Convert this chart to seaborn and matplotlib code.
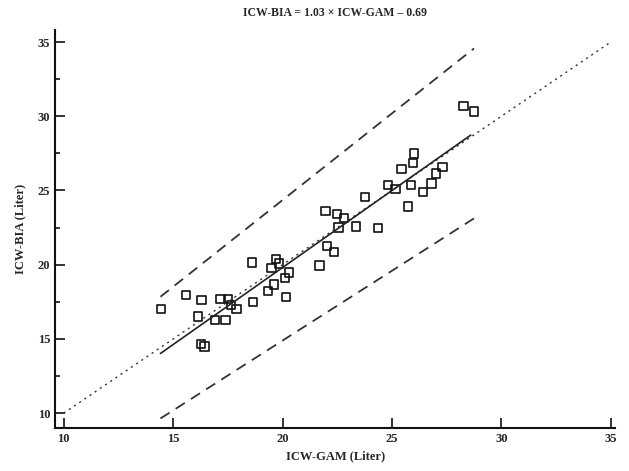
import matplotlib
matplotlib.use("Agg")
import matplotlib.pyplot as plt
import pandas as pd
import seaborn as sns
from matplotlib.ticker import MultipleLocator

# ICW measured by GAM (x) and by BIA (y), liters
icw_gam = [14.45, 15.6, 16.3, 16.15, 16.26, 16.44, 16.9, 17.16, 17.5, 17.39,
           17.65, 17.9, 18.65, 18.6, 19.35, 19.62, 19.5, 19.7, 19.85, 20.12,
           20.3, 20.15, 21.69, 22.04, 22.35, 21.96, 22.49, 22.82, 22.56, 23.35,
           23.78, 24.36, 24.82, 25.16, 25.44, 25.88, 25.72, 25.97, 26.0, 26.42,
           26.8, 27.01, 27.31, 28.27, 28.76]
icw_bia = [17.0, 17.95, 17.6, 16.5, 14.65, 14.5, 16.27, 17.7, 17.7, 16.27,
           17.3, 17.0, 17.5, 20.15, 18.24, 18.67, 19.8, 20.38, 20.09, 19.12,
           19.48, 17.84, 19.95, 21.27, 20.85, 23.61, 23.43, 23.14, 22.51, 22.58,
           24.57, 22.49, 25.36, 25.09, 26.44, 25.36, 23.93, 26.87, 27.5, 24.89,
           25.48, 26.15, 26.6, 30.7, 30.33]

# line endpoints
identity_x = [10, 35]
identity_y = [10, 35]
fit_x = [14.42, 28.6]
fit_y = [14.02, 28.73]
upper_x = [14.42, 28.75]
upper_y = [17.84, 34.57]
lower_x = [14.42, 28.75]
lower_y = [9.64, 23.12]

df = pd.DataFrame({"gam": icw_gam, "bia": icw_bia})

sns.set_style("white")
plt.rcParams["font.family"] = ["Liberation Serif", "DejaVu Serif"]

fig = plt.figure(figsize=(6.29, 4.71), dpi=100)
ax = fig.add_axes([0.0874, 0.0913, 0.8906, 0.8447])

ax.plot(identity_x, identity_y, color="#333333", lw=1.0, ls=(0, (1.5, 3)))
ax.plot(upper_x, upper_y, color="#333333", lw=1.3, ls=(0, (6, 4)))
ax.plot(lower_x, lower_y, color="#333333", lw=1.3, ls=(0, (6, 4)))
ax.plot(fit_x, fit_y, color="#222222", lw=1.2)

sns.scatterplot(data=df, x="gam", y="bia", marker="s", s=36,
                facecolor="none", edgecolor="#111111", linewidth=1.2, ax=ax)

ax.set_xlim(9.6, 35.2)
ax.set_ylim(9.0, 35.8)
ax.xaxis.set_major_locator(MultipleLocator(5))
ax.yaxis.set_major_locator(MultipleLocator(5))
ax.yaxis.set_minor_locator(MultipleLocator(2.5))
ax.tick_params(which="major", direction="in", length=7, width=1.2,
               labelsize=9, color="#111111", bottom=True, left=True)
ax.tick_params(which="minor", axis="y", direction="in", length=3.5, width=1.2,
               left=True, color="#111111")
for lbl in ax.get_xticklabels() + ax.get_yticklabels():
    lbl.set_fontweight("bold")

for side in ["top", "right"]:
    ax.spines[side].set_visible(False)
for side in ["left", "bottom"]:
    ax.spines[side].set_linewidth(1.5)
    ax.spines[side].set_color("#111111")

ax.set_xlabel("ICW-GAM (Liter)", fontsize=9, fontweight="bold", labelpad=4)
ax.set_ylabel("ICW-BIA (Liter)", fontsize=9, fontweight="bold", labelpad=8)
ax.set_title("ICW-BIA = 1.03 × ICW-GAM – 0.69", fontsize=8.5,
             fontweight="bold", pad=10)

fig.savefig("out.png", dpi=100)
